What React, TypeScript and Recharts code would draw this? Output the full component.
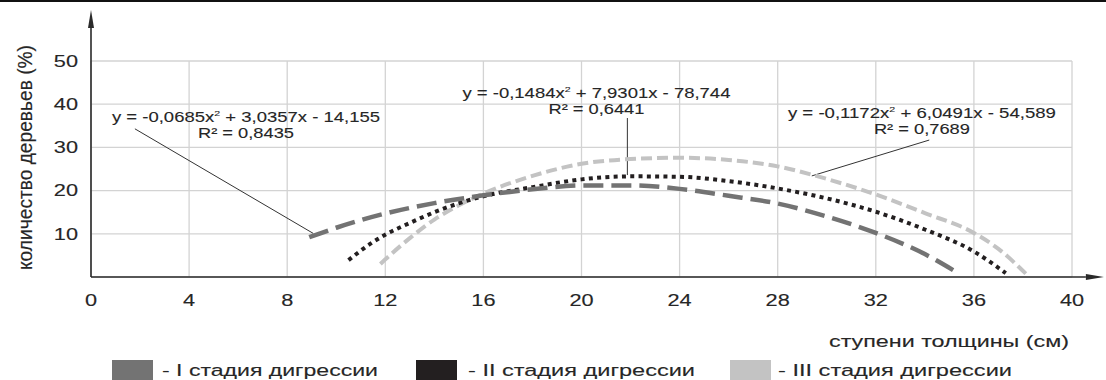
import React from "react";
import {
  LineChart,
  Line,
  XAxis,
  YAxis,
  CartesianGrid,
  ReferenceLine,
  ReferenceDot,
  Legend,
} from "recharts";

const FONT = '"Liberation Sans", Arial, Helvetica, sans-serif';
const TEXT = "#262626";
const STRETCH = 1.36; // the source picture is stretched horizontally
const HEAVY = 0.12; // thin outline so the text reads as heavy as in the scan

const xTicks = [0, 4, 8, 12, 16, 20, 24, 28, 32, 36, 40];
const yTicks = [10, 20, 30, 40, 50];

// values (ступени толщины, количество деревьев %)
const stage1X = [8.9, 10, 12, 14, 16, 18, 20, 22, 24, 26, 28, 30, 32, 34, 35.3];
const stage1Y = [9.2, 11.4, 14.7, 17.1, 18.9, 20.3, 21.2, 21.2, 20.4, 18.8, 17.0, 14.0, 10.2, 5.3, 1.1];

const stage2X = [10.5, 11.5, 12, 13, 14, 16, 18, 20, 22, 24, 26, 28, 30, 32, 34, 36, 37.3];
const stage2Y = [3.9, 8.1, 9.8, 12.5, 15.0, 18.7, 20.8, 22.6, 23.3, 23.2, 22.2, 20.5, 18.2, 15.1, 11.0, 5.9, 0.9];

const stage3X = [11.8, 12.2, 13, 14, 15, 16, 18, 20, 22, 24, 26, 28, 30, 32, 34, 36, 37, 38.2];
const stage3Y = [3.0, 5.1, 9.0, 13.3, 16.6, 19.3, 23.4, 26.2, 27.3, 27.6, 27.1, 25.6, 22.7, 19.1, 14.8, 10.2, 6.5, 0.3];

const stageNames = ["- I стадия дигрессии", "- II стадия дигрессии", "- III стадия дигрессии"];
const stageColors = ["#737373", "#231f20", "#c3c3c3"];

// trend line equations
const eqHead = ["y = -0,0685x", "y = -0,1484x", "y = -0,1172x"];
const eqTail = [" + 3,0357x - 14,155", " + 7,9301x - 78,744", " + 6,0491x - 54,589"];
const eqR2 = ["R² = 0,8435", "R² = 0,6441", "R² = 0,7689"];
const eqPosX = [6.32, 20.61, 33.88];
const eqPosY = [35.9, 41.4, 36.8];
const leaders = [
  [{ x: 1.79, y: 34.3 }, { x: 9.06, y: 10.1 }],
  [{ x: 21.87, y: 36.8 }, { x: 21.87, y: 23.6 }],
  [{ x: 34.18, y: 31.7 }, { x: 29.39, y: 23.4 }],
];

const toPoints = (xs: number[], ys: number[]) => xs.map((x, i) => ({ x, y: ys[i] }));
const series1 = toPoints(stage1X, stage1Y);
const series2 = toPoints(stage2X, stage2Y);
const series3 = toPoints(stage3X, stage3Y);

const XTick = ({ x, y, payload }: any) => (
  <g transform={`translate(${x},${y}) scale(${STRETCH},1)`}>
    <text x={0} y={0} dy="0.72em" textAnchor="middle" fontSize={16} fill={TEXT} stroke={TEXT} strokeWidth={HEAVY} fontFamily={FONT}>
      {payload.value}
    </text>
  </g>
);

const YTick = ({ x, y, payload }: any) => (
  <g transform={`translate(${x},${y}) scale(${STRETCH},1)`}>
    <text x={0} y={0} dy="0.36em" textAnchor="end" fontSize={16} fill={TEXT} stroke={TEXT} strokeWidth={HEAVY} fontFamily={FONT}>
      {payload.value}
    </text>
  </g>
);

const YLabel = ({ viewBox }: any) => {
  const cx = viewBox.x + 31.5;
  const cy = viewBox.y + viewBox.height / 2 - 11.5;
  return (
    <g transform={`translate(${cx},${cy}) scale(1.3,1) rotate(-90)`}>
      <text
        x={0}
        y={0}
        textAnchor="middle"
        fontSize={15}
        fill={TEXT}
        stroke={TEXT}
        strokeWidth={HEAVY}
        fontFamily={FONT}
        textLength={225}
        lengthAdjust="spacingAndGlyphs"
      >
        количество деревьев (%)
      </text>
    </g>
  );
};

const XLabel = ({ viewBox }: any) => (
  <text
    x={viewBox.x + viewBox.width - 123}
    y={viewBox.y + 70}
    textAnchor="middle"
    fontSize={16}
    fill={TEXT}
    stroke={TEXT}
    strokeWidth={HEAVY}
    fontFamily={FONT}
    textLength={240}
    lengthAdjust="spacingAndGlyphs"
  >
    ступени толщины (см)
  </text>
);

const AxisArrow = ({ x1, y1, x2, y2 }: any) => {
  const ang = Math.atan2(y2 - y1, x2 - x1);
  const len = 18;
  const half = 3;
  const bx = x2 - len * Math.cos(ang);
  const by = y2 - len * Math.sin(ang);
  const nx = -Math.sin(ang) * half;
  const ny = Math.cos(ang) * half;
  return (
    <g>
      <line x1={x1} y1={y1} x2={bx} y2={by} stroke="#2a2a2a" strokeWidth={1.6} />
      <polygon points={`${x2},${y2} ${bx + nx},${by + ny} ${bx - nx},${by - ny}`} fill="#2a2a2a" />
    </g>
  );
};

const Equation = ({ cx, cy, i }: any) => (
  <g fontFamily={FONT} fill={TEXT} stroke={TEXT} strokeWidth={0.1}>
    <text
      x={cx}
      y={cy}
      textAnchor="middle"
      fontSize={14}
      textLength={268}
      lengthAdjust="spacingAndGlyphs"
    >
      {eqHead[i]}
      <tspan fontSize={8} dy={-6}>2</tspan>
      <tspan fontSize={14} dy={6}>{eqTail[i]}</tspan>
    </text>
    <text
      x={cx}
      y={cy + 16}
      textAnchor="middle"
      fontSize={14}
      textLength={96}
      lengthAdjust="spacingAndGlyphs"
    >
      {eqR2[i]}
    </text>
  </g>
);

const legendSwatchX = [112, 416, 730];
const legendTextX = [162, 468, 778];
const legendTextW = [216, 227, 234];

const LegendBox = () => (
  <svg width={1106} height={25} style={{ display: "block" }}>
    {stageNames.map((name, i) => (
      <g key={name}>
        <rect x={legendSwatchX[i]} y={5} width={41} height={20} fill={stageColors[i]} />
        <text
          x={legendTextX[i]}
          y={21}
          fontSize={17}
          fill={TEXT}
          stroke={TEXT}
          strokeWidth={HEAVY}
          fontFamily={FONT}
          textLength={legendTextW[i]}
          lengthAdjust="spacingAndGlyphs"
        >
          {name}
        </text>
      </g>
    ))}
  </svg>
);

export default function App() {
  return (
    <div style={{ position: "absolute", left: 0, top: 0, width: 1106, height: 380, background: "#fff" }}>
      <div style={{ position: "absolute", left: 0, top: 0, width: 1106, height: 2, background: "#111" }} />
      <LineChart width={1106} height={380} margin={{ top: 61, right: 34, bottom: 73, left: 0 }}>
        <CartesianGrid stroke="#d3d3d3" strokeWidth={1.3} />
        <XAxis
          dataKey="x"
          type="number"
          domain={[0, 40]}
          ticks={xTicks}
          axisLine={false}
          tickLine={false}
          tickSize={0}
          tickMargin={17}
          height={30}
          tick={<XTick />}
          interval={0}
          label={{ content: (p: any) => <XLabel {...p} /> }}
        />
        <YAxis
          dataKey="y"
          type="number"
          domain={[0, 50]}
          ticks={yTicks}
          axisLine={false}
          tickLine={false}
          tickSize={0}
          tickMargin={13}
          width={91}
          tick={<YTick />}
          interval={0}
          label={{ content: (p: any) => <YLabel {...p} /> }}
        />
        <Legend
          verticalAlign="middle"
          align="center"
          layout="horizontal"
          content={() => <LegendBox />}
          wrapperStyle={{ left: 0, top: 355, width: 1106, height: 25 }}
        />
        {leaders.map((seg, i) => (
          <ReferenceLine key={`lead-${i}`} segment={seg} stroke="#333" strokeWidth={1} ifOverflow="visible" />
        ))}
        <Line
          data={series3}
          dataKey="y"
          name="III стадия дигрессии"
          type="monotone"
          stroke={stageColors[2]}
          strokeWidth={4}
          strokeDasharray="11 5"
          dot={false}
          activeDot={false}
          isAnimationActive={false}
        />
        <Line
          data={series2}
          dataKey="y"
          name="II стадия дигрессии"
          type="monotone"
          stroke={stageColors[1]}
          strokeWidth={4}
          strokeDasharray="4 4.3"
          dot={false}
          activeDot={false}
          isAnimationActive={false}
        />
        <Line
          data={series1}
          dataKey="y"
          name="I стадия дигрессии"
          type="monotone"
          stroke={stageColors[0]}
          strokeWidth={4.5}
          strokeDasharray="20 8"
          dot={false}
          activeDot={false}
          isAnimationActive={false}
        />
        {eqHead.map((_, i) => (
          <ReferenceDot
            key={`eq-${i}`}
            x={eqPosX[i]}
            y={eqPosY[i]}
            r={0}
            ifOverflow="visible"
            shape={(p: any) => <Equation cx={p.cx} cy={p.cy} i={i} />}
          />
        ))}
        <ReferenceLine segment={[{ x: 0, y: 0 }, { x: 0, y: 61.8 }]} ifOverflow="visible" shape={<AxisArrow />} />
        <ReferenceLine segment={[{ x: 0, y: 0 }, { x: 41.3, y: 0 }]} ifOverflow="visible" shape={<AxisArrow />} />
      </LineChart>
    </div>
  );
}
